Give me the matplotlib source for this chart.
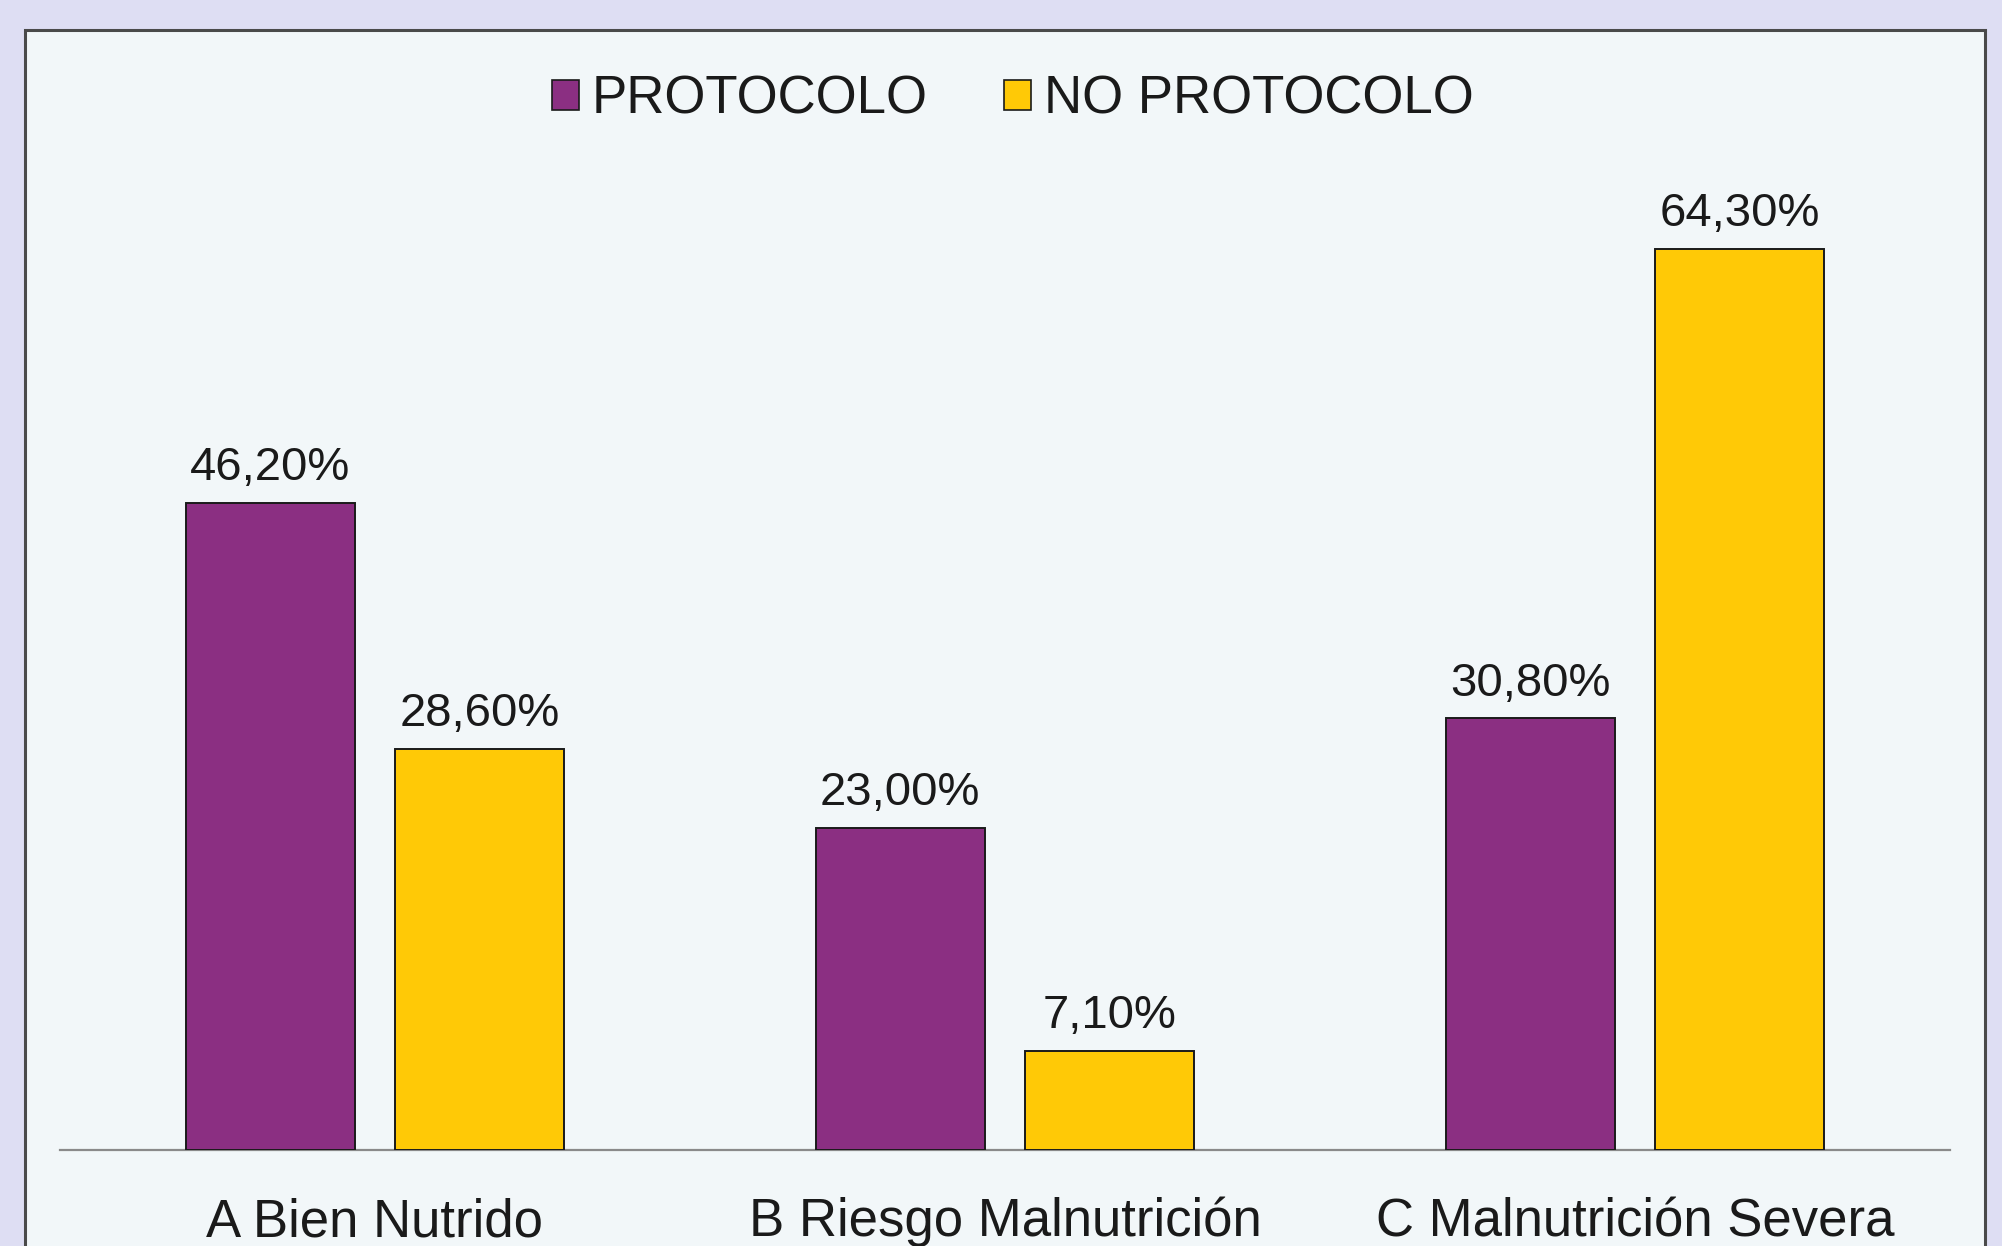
import matplotlib
matplotlib.use("Agg")
import matplotlib.pyplot as plt
from matplotlib.patches import Rectangle, Patch
import numpy as np

categories = ["A Bien Nutrido", "B Riesgo Malnutrición", "C Malnutrición Severa"]
protocolo = [46.2, 23.0, 30.8]
no_protocolo = [28.6, 7.1, 64.3]
series_names = ["PROTOCOLO", "NO PROTOCOLO"]

PURPLE = "#8B2F82"
YELLOW = "#FFC906"
OUTER = "#DEDEF3"
PANEL = "#F2F7F9"
TXT = "#1a1a1a"

plt.rcParams["font.family"] = ["Liberation Sans", "DejaVu Sans"]

W, H = 2002, 1246
fig = plt.figure(figsize=(W / 100, H / 100), dpi=100)
fig.patch.set_facecolor(OUTER)

# inner panel
px0, px1, py_top = 25, 1985, 30
panel = Rectangle((px0 / W, -0.05), (px1 - px0) / W, 1.05 - py_top / H,
                  transform=fig.transFigure, facecolor=PANEL,
                  edgecolor="#4a4a4a", linewidth=2.2, zorder=-10)
fig.patches.append(panel)

ax_left, ax_right = 60, 1950
base_y = 1150
ymax = 70
px_per_unit = 14.01
ax_h = ymax * px_per_unit
ax = fig.add_axes([ax_left / W, (H - base_y) / H, (ax_right - ax_left) / W, ax_h / H])
ax.set_facecolor("none")
ax.set_zorder(5)

x = np.arange(len(categories))
bw = 0.268
off = 0.1665
b1 = ax.bar(x - off, protocolo, bw, color=PURPLE, edgecolor="#1a1a1a", linewidth=1.4, zorder=3)
b2 = ax.bar(x + off, no_protocolo, bw, color=YELLOW, edgecolor="#1a1a1a", linewidth=1.4, zorder=3)

ax.set_xlim(-0.5, 2.5)
ax.set_ylim(0, ymax)
for s in ["top", "right", "left"]:
    ax.spines[s].set_visible(False)
ax.spines["bottom"].set_color("#8a8a8a")
ax.spines["bottom"].set_linewidth(1.6)
ax.set_yticks([])

ax.set_xticks(x)
ax.set_xticklabels(categories, fontsize=38, color=TXT)
ax.tick_params(axis="x", length=0, pad=62)
for lbl in ax.get_xticklabels():
    lbl.set_va("baseline")

def fmt(v):
    return f"{v:.2f}".replace(".", ",") + "%"

for bars, vals in ((b1, protocolo), (b2, no_protocolo)):
    for r, v in zip(bars, vals):
        ax.annotate(fmt(v), (r.get_x() + r.get_width() / 2, v),
                    xytext=(0, 16.5), textcoords="offset points",
                    ha="center", va="baseline", fontsize=34, color=TXT)

handles = [Patch(facecolor=PURPLE, edgecolor="#1a1a1a", linewidth=1.2),
           Patch(facecolor=YELLOW, edgecolor="#1a1a1a", linewidth=1.2)]
leg = fig.legend(handles, series_names, loc="center", bbox_to_anchor=(1013 / W, 1 - 100 / H),
                 ncol=2, frameon=False, fontsize=38, handlelength=0.5, handleheight=0.5,
                 handletextpad=0.25, columnspacing=1.45, labelcolor=TXT)
leg.set_zorder(6)

fig.savefig("out.png", dpi=100, facecolor=OUTER)
